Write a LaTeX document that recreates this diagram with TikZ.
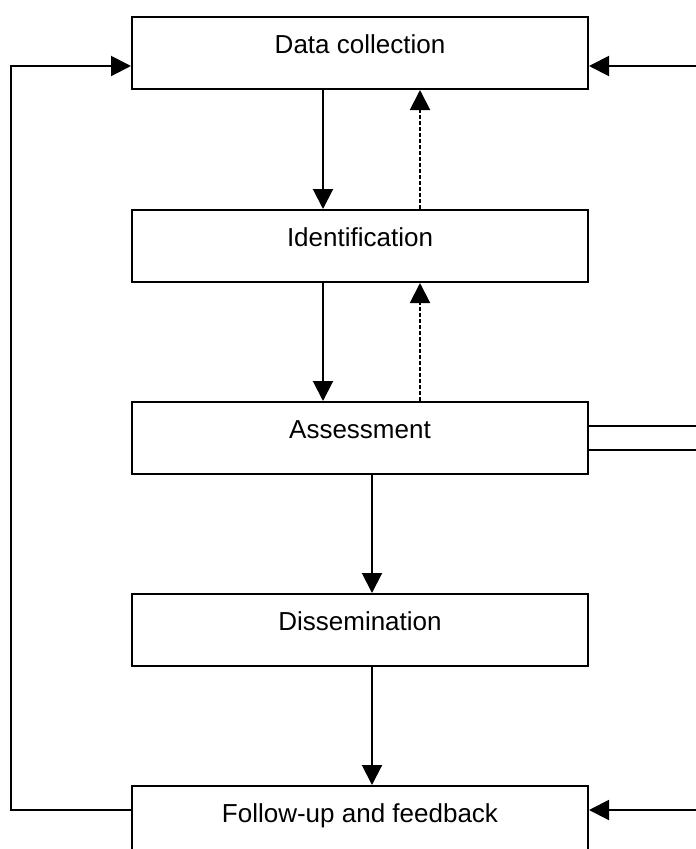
\documentclass[tikz,border=0pt]{standalone}
\usepackage{fontspec}
\setmainfont{Liberation Sans}
\usetikzlibrary{arrows.meta}
\tikzset{
  stage/.style={draw, line width=2pt, minimum width=456pt, inner xsep=0pt, inner ysep=0pt,
    text height=36pt, text depth=36pt, font=\fontsize{26}{30}\selectfont},
  flow/.style={line width=2pt, -{Triangle[length=20pt,width=20pt]}},
  back/.style={flow, dash pattern=on 4pt off 2pt}
}

\begin{document}
\begin{tikzpicture}[x=1pt,y=-1pt]
\useasboundingbox (0,0) rectangle (696,849);
\node[stage] (dc) at (360,53) {Data collection};
\node[stage] (id) at (360,246) {Identification};
\node[stage] (as) at (360,438) {Assessment};
\node[stage] (ds) at (360,630) {Dissemination};
\node[stage] (fu) at (360,822) {Follow-up and feedback};
\coordinate (rin1) at (696,66);
\coordinate (rin2) at (696,810);
\coordinate (rout1) at (696,426);
\coordinate (rout2) at (696,450);
\draw[flow] ([xshift=-37pt]dc.south) -- ([xshift=-37pt]id.north);
\draw[back] ([xshift=60pt]id.north) -- ([xshift=60pt]dc.south);
\draw[flow] ([xshift=-37pt]id.south) -- ([xshift=-37pt]as.north);
\draw[back] ([xshift=60pt]as.north) -- ([xshift=60pt]id.south);
\draw[flow] ([xshift=12pt]as.south) -- ([xshift=12pt]ds.north);
\draw[flow] ([xshift=12pt]ds.south) -- ([xshift=12pt]fu.north);
\draw[flow] ([yshift=12pt]fu.west) -- ++(-120,0) |- ([yshift=-13pt]dc.west);
\draw[flow] (rin1) -- (rin1 -| dc.east);
\draw[flow] (rin2) -- (rin2 -| fu.east);
\draw[line width=2pt] (rout1 -| as.east) -- (rout1);
\draw[line width=2pt] (rout2 -| as.east) -- (rout2);
\end{tikzpicture}
\end{document}
